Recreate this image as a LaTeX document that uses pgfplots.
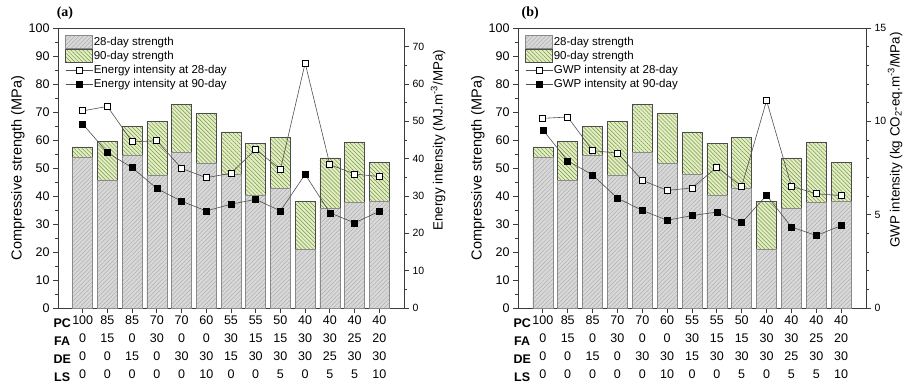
\documentclass[border=0pt]{standalone}
\usepackage{fontspec}
\setmainfont{Liberation Sans}
\newfontfamily\titlefont{Liberation Serif}
\usepackage{pgfplots}
\usepackage{pgfplotstable}
\pgfplotsset{compat=1.18}
\usetikzlibrary{patterns,patterns.meta}

\definecolor{gfill}{HTML}{D8D8D8}
\definecolor{ghatch}{HTML}{A6A6A6}
\definecolor{gborder}{HTML}{8A8A8A}
\definecolor{vfill}{HTML}{E2EFC4}
\definecolor{vhatch}{HTML}{7A9646}
\definecolor{lineg}{HTML}{505050}
\definecolor{axc}{HTML}{3C3C3C}

\tikzset{
 bar28/.style={fill=gfill, draw=gborder, line width=0.6pt,
   postaction={pattern={Lines[angle=45,distance=3pt,line width=0.35pt]}, pattern color=ghatch}},
 bar90/.style={fill=vfill, draw=black!70, line width=0.6pt,
   postaction={pattern={Lines[angle=-45,distance=2.8pt,line width=0.5pt]}, pattern color=vhatch}},
}

\pgfplotstableread{
x s28 s90 e28 e90 g28 g90
1 53.8 57.5 52.8 49.3 10.16 9.54
2 45.7 59.6 54.0 41.6 10.23 7.88
3 54.6 64.9 44.5 37.6 8.43 7.13
4 47.5 66.7 44.8 32.0 8.30 5.88
5 55.6 72.6 37.4 28.6 6.84 5.23
6 51.8 69.6 34.9 26.0 6.30 4.70
7 47.9 62.9 36.1 27.8 6.43 4.95
8 40.4 58.9 42.5 29.1 7.54 5.14
9 42.9 61.0 37.1 26.0 6.52 4.57
10 20.8 38.2 65.6 35.8 11.11 6.04
11 35.5 53.6 38.4 25.5 6.52 4.34
12 37.6 59.3 35.9 22.8 6.12 3.88
13 38.0 51.9 35.2 25.9 6.02 4.41
}\data

\newcommand{\legimg}[1]{\draw[#1] (0pt,-6.5pt) rectangle (27pt,6.5pt);}

\pgfplotsset{
 base/.style={scale only axis, height=280pt, xmin=0, xmax=14, ymin=0, ymax=100,
   axis line style={axc, line width=0.8pt},
   every tick/.style={axc, line width=0.8pt},
   major tick length=5pt, minor tick length=3pt, tick align=outside,
   /pgf/number format/assume math mode=true},
 barax/.style={base, xtick pos=bottom, ytick pos=left,
   yticklabel style={font=\fontsize{12.5}{14}\selectfont},
   ytick={0,10,...,100}, minor y tick num=1,
   xtick={1,...,13},
   xticklabels={{100\\0\\0\\0}, {85\\15\\0\\0}, {85\\0\\15\\0}, {70\\30\\0\\0}, {70\\0\\30\\0}, {60\\0\\30\\10}, {55\\30\\15\\0}, {55\\15\\30\\0}, {50\\15\\30\\5}, {40\\30\\30\\0}, {40\\30\\25\\5}, {40\\25\\30\\5}, {40\\20\\30\\10}},
   extra x ticks={0.17},
   extra x tick labels={{\textbf{PC}\\\textbf{FA}\\\textbf{DE}\\\textbf{LS}}},
   extra x tick style={major tick length=0pt, xticklabel style={yshift=-8pt}},
   xticklabel style={align=center, font=\fontsize{12.5}{18}\selectfont, yshift=1pt},
   ylabel={Compressive strength (MPa)}, ylabel shift=-3pt,
   ylabel style={font=\fontsize{14.5}{16}\selectfont},
   title style={font=\titlefont\bfseries\fontsize{14}{16}\selectfont, anchor=south, yshift=-1pt}},
 lineax/.style={base, axis y line*=right, axis x line=none, yticklabel pos=right,
   yticklabel style={font=\fontsize{10.5}{12}\selectfont},
   legend style={at={(0,1)}, anchor=north west, xshift=4pt, yshift=-5pt, draw=none, fill=none,
     font=\fontsize{11.5}{13}\selectfont, row sep=0pt,
     nodes={inner sep=1pt, text height=9pt, text depth=3pt}},
   legend cell align=left,
   legend image code/.code={\draw[mark repeat=2,mark phase=2,##1] plot coordinates {(0pt,0pt) (13.5pt,0pt) (27pt,0pt)};}},
 l28/.style={lineg, line width=0.6pt, mark=square*, mark size=3pt, mark options={fill=white, draw=black, line width=0.9pt, solid}},
 l90/.style={lineg, line width=0.6pt, mark=square*, mark size=3pt, mark options={fill=black, draw=black, solid}},
}
\tikzset{rlabel/.style={font=\fontsize{13.4}{15}\selectfont, rotate=90, anchor=center}}

\begin{document}
\begin{tikzpicture}
% ---------- panel (a) ----------
\begin{axis}[barax, width=346pt, at={(58pt,83pt)}, anchor=south west,
  title={(a)}, title style={at={(axis description cs:0.02,1)}}]
\addplot[ybar, bar width=20pt, bar90] table[x=x,y=s90]{\data};
\addplot[ybar, bar width=20pt, bar28] table[x=x,y=s28]{\data};
\end{axis}
\begin{axis}[lineax, width=346pt, at={(58pt,83pt)}, anchor=south west,
  ymax=75, ytick={0,10,...,70}, minor y tick num=1, clip=false]
\addlegendimage{legend image code/.code={\legimg{bar28}}}
\addlegendentry{28-day strength}
\addlegendimage{legend image code/.code={\legimg{bar90}}}
\addlegendentry{90-day strength}
\addplot[l28] table[x=x,y=e28]{\data};
\addlegendentry{Energy intensity at 28-day}
\addplot[l90] table[x=x,y=e90]{\data};
\addlegendentry{Energy intensity at 90-day}
\node[rlabel] at ([xshift=34pt]rel axis cs:1,0.6) {Energy intensity (MJ.m\textsuperscript{-3}/MPa)};
\end{axis}
% ---------- panel (b) ----------
\begin{axis}[barax, width=348pt, at={(518pt,83pt)}, anchor=south west,
  title={(b)}, title style={at={(axis description cs:0.035,1)}}]
\addplot[ybar, bar width=20pt, bar90] table[x=x,y=s90]{\data};
\addplot[ybar, bar width=20pt, bar28] table[x=x,y=s28]{\data};
\end{axis}
\begin{axis}[lineax, width=348pt, at={(518pt,83pt)}, anchor=south west,
  ymax=15, ytick={0,5,10,15}, minor y tick num=4, clip=false]
\addlegendimage{legend image code/.code={\legimg{bar28}}}
\addlegendentry{28-day strength}
\addlegendimage{legend image code/.code={\legimg{bar90}}}
\addlegendentry{90-day strength}
\addplot[l28] table[x=x,y=g28]{\data};
\addlegendentry{GWP intensity at 28-day}
\addplot[l90] table[x=x,y=g90]{\data};
\addlegendentry{GWP intensity at 90-day}
\node[rlabel] at ([xshift=29pt]rel axis cs:1,0.6) {GWP intensity (kg CO\textsubscript{2}-eq.m\textsuperscript{-3}/MPa)};
\end{axis}
\pgfresetboundingbox
\useasboundingbox (0pt,0pt) rectangle (905pt,391pt);
\end{tikzpicture}
\end{document}
